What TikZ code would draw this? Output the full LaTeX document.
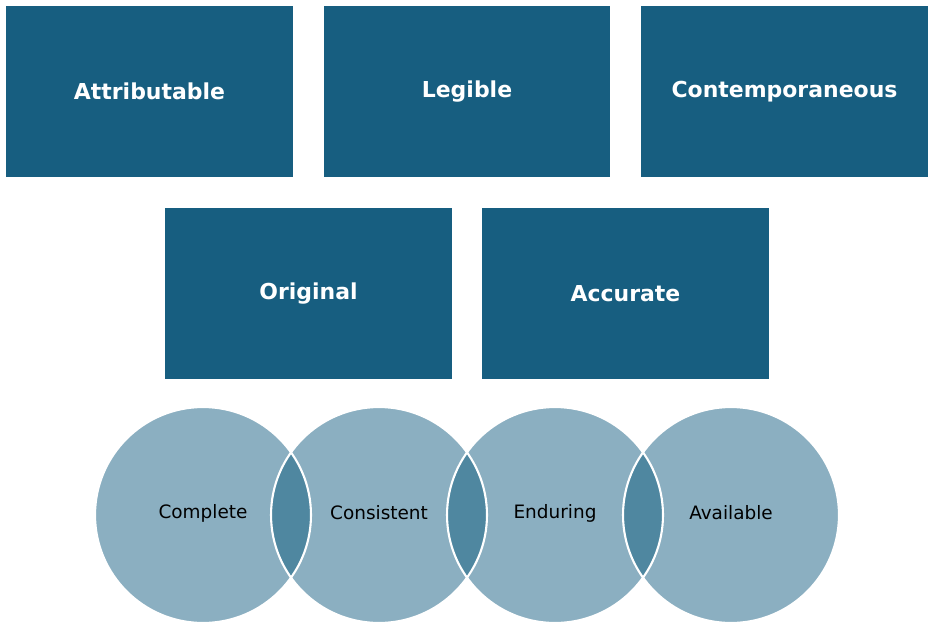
\documentclass[tikz,border=0pt]{standalone}
\usepackage{fontspec}
\setmainfont{DejaVu Sans}
\usetikzlibrary{positioning}
\definecolor{boxblue}{HTML}{175E80}
\definecolor{ringblue}{HTML}{8BAFC1}
\definecolor{lensblue}{HTML}{4F87A0}
\tikzset{
    alcoa/.style={fill=boxblue, text=white, minimum width=5.74cm, minimum height=3.42cm,
        inner sep=0pt, font=\bfseries\fontsize{12.5}{14}\selectfont},
    ringtext/.style={font=\fontsize{10.5}{12}\selectfont}
}
\begin{document}
\begin{tikzpicture}[x=0.02cm, y=-0.02cm]
    \useasboundingbox[fill=white] (0,0) rectangle (935,635);

    \node[alcoa] (attr) at (149.5,91.5) {Attributable};
    \node[alcoa] (leg) at (467,91.5) {Legible};
    \node[alcoa] (cont) at (784.5,91.5) {Contemporaneous};
    \node[alcoa] (orig) at (308.5,293.5) {Original};
    \node[alcoa] (acc) at (625.5,293.5) {Accurate};

    \foreach \cx in {203,379,555,731}
        \fill[ringblue] (\cx,515) circle (2.16cm);
    \foreach \cx/\nx in {203/379,379/555,555/731} {
        \begin{scope}
            \clip (\cx,515) circle (2.16cm);
            \fill[lensblue] (\nx,515) circle (2.16cm);
        \end{scope}
    }
    \foreach \cx in {203,379,555,731}
        \draw[white, line width=1.2pt] (\cx,515) circle (2.16cm);

    \node[ringtext] (comp) at (203,513) {Complete};
    \node[ringtext] (cons) at (379,513) {Consistent};
    \node[ringtext] (endu) at (555,513) {Enduring};
    \node[ringtext] (avai) at (731,513) {Available};
\end{tikzpicture}
\end{document}
